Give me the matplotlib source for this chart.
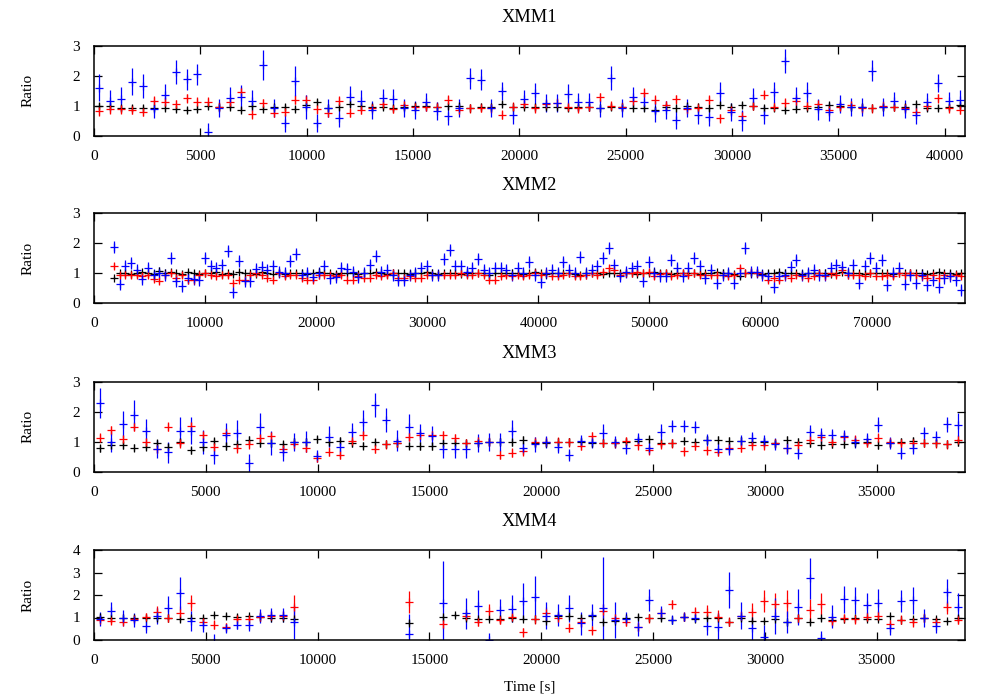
import numpy as np
import matplotlib.pyplot as plt

plt.rcParams['font.family'] = ['Liberation Serif', 'DejaVu Serif']
plt.rcParams['font.size'] = 11

nan = np.nan
BIN = 512.0   # time bin [s]

#====================== DATA ============================================

# ---- XMM1 (80 bins from t=0)
blue1 = [1.60,1.17,1.23,1.80,1.67,0.88,1.36,2.13,1.88,2.05,
         0.11,0.91,1.27,1.28,1.17,2.35,0.91,0.41,1.83,0.97,
         0.43,0.91,0.58,1.30,1.17,0.86,1.27,1.22,0.91,0.86,
         1.11,0.82,0.66,0.93,1.91,1.86,0.93,1.49,0.69,1.22,
         1.41,1.08,1.08,1.38,1.13,1.13,0.91,1.91,0.91,1.28,
         1.11,0.82,0.86,0.52,0.91,0.69,0.61,1.43,0.80,0.52,
         1.25,0.69,1.45,2.49,1.27,1.43,0.88,0.80,1.06,0.97,
         0.97,2.16,0.97,1.16,0.88,0.69,1.13,1.75,1.16,1.19]
blue1_err = [.45,.35,.40,.45,.40,.30,.35,.40,.35,.35,
             .30,.30,.35,.40,.35,.50,.30,.30,.50,.40,
             .30,.30,.30,.35,.35,.30,.30,.35,.30,.30,
             .30,.30,.30,.30,.35,.35,.30,.30,.30,.30,
             .35,.30,.30,.35,.30,.30,.30,.40,.30,.35,
             .30,.35,.30,.30,.30,.30,.30,.35,.30,.35,
             .35,.30,.35,.40,.35,.35,.35,.30,.30,.30,
             .30,.35,.30,.30,.30,.30,.30,.30,.30,.35]
red1 = [0.82,0.88,0.88,0.86,0.80,1.16,1.13,1.05,1.25,1.13,
        1.13,0.97,1.11,1.46,0.71,1.08,0.77,0.80,1.19,1.19,
        0.88,0.77,1.16,0.77,0.86,0.93,1.05,0.89,1.02,0.97,
        0.97,0.97,1.19,0.86,0.91,0.93,0.91,0.69,0.97,1.05,
        0.91,1.05,1.10,0.97,0.91,0.97,1.28,1.00,0.97,1.16,
        1.43,1.19,1.02,1.22,0.88,0.93,1.19,0.58,0.85,0.66,
        0.99,1.36,0.97,1.10,1.16,1.00,1.05,0.85,0.97,1.02,
        0.91,0.91,0.99,0.97,0.91,0.80,0.99,1.25,0.91,0.86]
black1 = [1.00,1.00,0.91,0.91,0.93,0.92,0.91,0.88,0.86,0.88,
          0.99,0.95,0.97,0.86,0.99,0.88,0.97,0.97,0.88,1.02,
          1.11,0.93,0.97,1.05,0.99,0.97,0.97,0.93,0.97,1.00,
          0.99,0.97,0.99,0.99,0.93,0.97,0.97,1.05,0.97,0.97,
          0.97,0.97,0.97,0.93,0.97,0.97,0.91,0.97,0.97,0.93,
          0.91,0.86,0.97,0.93,0.99,0.97,0.91,1.02,0.97,1.02,
          0.99,0.91,0.91,0.86,0.88,0.93,0.97,1.02,0.99,0.97,
          0.97,0.91,0.97,0.97,0.97,1.05,0.91,0.91,0.97,1.01]

# ---- XMM2 (150 bins, first bin index 3)
blue2 = [1.88,0.64,1.25,1.36,1.12,0.82,1.17,0.95,1.00,0.95,
         1.51,0.75,0.59,0.86,0.82,0.78,1.51,1.23,1.17,1.29,
         1.76,0.37,1.42,0.75,0.75,1.15,1.20,1.12,1.23,1.06,
         1.00,1.42,1.64,0.95,1.00,0.89,1.00,1.23,0.84,0.89,
         1.17,1.15,1.06,0.89,1.00,1.29,1.57,1.06,1.12,0.95,
         0.78,0.78,0.95,1.00,1.17,1.23,0.95,0.95,1.49,1.79,
         1.23,1.25,1.06,1.17,1.48,1.12,1.00,1.17,1.17,1.12,
         0.95,1.17,1.00,1.38,0.95,0.70,1.00,1.12,1.00,1.38,
         1.12,1.00,1.54,1.00,1.12,1.23,1.51,1.85,1.29,0.90,
         1.06,1.17,1.23,0.73,1.38,1.00,0.90,0.90,1.45,1.17,
         0.90,1.17,1.51,1.23,0.84,1.12,0.67,0.95,1.00,0.69,
         1.00,1.85,1.06,1.06,0.95,0.90,0.53,0.90,0.95,1.20,
         1.45,0.95,1.00,1.12,0.95,0.95,1.17,1.29,1.20,1.00,
         1.29,0.67,1.23,1.51,1.17,1.45,0.62,1.00,1.17,0.64,
         0.95,0.67,0.95,0.62,0.78,0.56,0.84,0.90,0.78,0.45]
red2 = [1.23,0.95,0.95,0.93,0.95,0.92,0.95,0.82,0.75,0.95,
        1.01,0.86,0.95,0.78,0.78,0.95,1.01,0.95,0.90,0.95,
        0.95,0.67,0.78,0.78,0.95,1.01,0.95,0.84,0.78,1.01,
        0.90,0.95,0.95,0.84,0.78,0.78,0.95,0.95,0.95,0.90,
        0.95,0.78,0.78,0.90,0.86,0.86,0.93,0.90,0.95,1.01,
        0.84,0.84,0.90,0.86,0.86,0.95,0.95,0.95,0.95,0.95,
        0.95,1.01,0.95,0.95,1.01,0.95,0.78,0.78,0.90,0.95,
        0.90,0.95,0.90,0.95,1.01,0.95,1.01,0.90,0.90,0.95,
        1.01,0.90,0.90,0.95,1.01,0.95,1.06,1.17,1.12,0.95,
        1.01,1.01,1.06,1.01,1.06,0.90,0.97,1.01,0.90,0.95,
        1.01,0.95,1.01,0.95,0.95,0.95,0.95,0.95,0.90,0.95,
        1.17,1.01,1.06,1.01,0.95,0.78,0.84,0.78,0.90,0.84,
        0.95,0.90,0.84,0.90,1.01,0.90,1.01,0.95,1.12,0.95,
        0.95,0.95,0.90,1.01,0.90,0.90,0.95,0.90,1.01,0.95,
        1.01,0.95,0.90,0.84,0.95,0.84,0.95,0.90,0.95,0.90]
black2 = [0.86,1.00,1.02,0.98,1.00,1.03,1.00,0.98,1.08,1.00,
          1.03,1.00,0.97,1.05,1.02,0.98,1.00,1.00,1.03,0.97,
          1.00,0.98,1.05,1.00,1.02,0.98,1.03,1.00,0.97,1.00,
          0.97,1.00,1.02,1.00,0.98,1.00,1.03,1.00,1.00,0.98,
          1.00,1.02,1.00,0.97,1.00,1.00,1.03,1.00,0.98,1.00,
          1.00,1.02,0.98,1.00,1.00,1.03,1.00,0.97,1.00,1.00,
          1.00,0.98,1.02,1.00,1.00,1.00,0.95,1.00,1.00,1.02,
          1.00,1.00,0.98,1.00,1.03,1.00,0.97,1.00,1.00,1.02,
          1.00,0.97,0.95,1.00,1.00,1.00,0.98,1.02,1.00,1.00,
          1.02,1.00,0.98,1.00,1.00,1.03,1.00,1.00,0.97,1.00,
          1.00,1.02,1.00,0.98,1.00,1.00,1.03,1.00,1.00,0.97,
          0.90,1.00,1.02,1.00,0.98,1.00,1.00,1.03,1.00,1.00,
          1.00,0.98,1.00,1.02,1.00,1.00,0.98,1.00,1.03,1.00,
          1.00,1.00,0.98,1.00,1.02,1.00,1.00,0.97,1.00,1.00,
          1.02,1.00,1.00,0.98,1.00,1.03,1.00,1.00,0.97,1.00]

# ---- XMM3 (76 bins)
blue3 = [2.30,1.00,1.58,1.89,1.36,0.76,0.65,1.36,1.36,1.00,
         0.55,1.22,1.28,0.28,1.50,0.95,0.67,1.00,1.00,0.53,
         1.17,0.83,1.33,1.65,2.22,1.72,1.03,1.48,1.30,1.19,
         0.76,0.76,0.76,0.95,1.00,1.00,1.36,0.78,0.91,1.00,
         0.83,0.56,1.03,1.00,1.28,1.00,0.78,1.09,0.80,1.33,
         1.53,1.53,1.48,1.06,0.76,0.76,1.03,1.13,1.02,0.91,
         0.78,0.61,1.31,1.22,1.22,1.19,1.00,1.08,1.56,0.95,
         0.61,0.78,1.28,1.17,1.59,1.56]
blue3_err = [.50,.35,.45,.50,.40,.30,.35,.45,.45,.40,
             .30,.40,.45,.30,.45,.40,.30,.30,.35,.20,
             .35,.30,.30,.40,.40,.40,.35,.45,.30,.35,
             .30,.30,.30,.30,.30,.30,.35,.20,.25,.20,
             .20,.20,.20,.20,.30,.20,.20,.20,.20,.25,
             .20,.20,.20,.20,.20,.20,.20,.20,.20,.20,
             .20,.20,.25,.25,.20,.20,.20,.20,.25,.20,
             .20,.20,.20,.20,.25,.40]
red3 = [1.13,1.39,1.09,1.50,0.98,0.76,1.50,0.95,1.52,1.22,
        0.83,1.30,0.78,0.91,1.11,1.19,0.76,0.92,0.80,0.47,
        0.67,0.56,1.03,1.22,0.76,0.91,0.95,1.17,1.22,1.22,
        1.22,1.11,0.95,1.02,1.00,0.56,0.64,0.69,1.00,1.00,
        1.00,0.98,0.87,1.19,0.97,0.95,1.02,0.89,0.72,0.91,
        0.95,0.69,0.87,0.72,0.67,0.78,0.80,0.89,0.89,0.95,
        0.78,0.89,1.06,1.17,1.00,1.17,1.06,0.97,1.14,0.98,
        0.95,0.97,0.97,0.95,0.92,1.06]
black3 = [0.78,0.89,0.89,0.80,0.83,0.95,0.83,1.00,0.72,0.83,
          1.02,0.86,0.91,1.06,0.95,0.95,0.91,1.00,1.00,1.08,
          0.98,1.03,0.95,0.87,0.98,0.91,0.95,0.87,0.86,0.86,
          0.95,0.97,0.95,0.97,1.00,1.00,0.98,1.06,0.95,0.95,
          1.00,1.00,1.00,0.95,0.97,0.97,1.00,1.03,1.08,0.97,
          0.95,1.03,0.98,1.06,1.06,1.03,1.03,1.00,1.00,0.95,
          1.06,1.00,0.95,0.89,0.91,0.91,0.97,1.00,0.89,0.95,
          1.00,1.03,0.97,0.97,0.91,0.98]

# ---- XMM4 (76 bins, gap in the middle)
blue4 = [0.93,1.29,0.99,0.89,0.64,1.07,1.44,2.07,0.84,0.67,
         -0.10,0.52,0.67,0.67,1.07,1.11,1.11,0.79,nan,nan,
         nan,nan,nan,nan,nan,nan,nan,0.25,nan,nan,
         1.63,nan,1.18,1.53,0.00,1.33,1.38,1.73,1.93,1.07,
         1.11,1.41,0.74,1.11,1.41,0.89,0.95,0.59,1.77,1.21,
         0.89,1.04,0.99,0.62,0.59,2.22,1.07,0.52,0.15,1.07,
         0.79,1.48,2.74,0.10,1.04,1.82,1.77,1.55,1.66,0.52,
         1.73,1.77,0.99,0.62,2.12,1.48]
blue4_err = [0.30,0.40,0.35,0.30,0.35,0.35,0.50,0.75,0.45,0.30,
             0.35,0.20,0.20,0.25,0.30,0.30,0.30,0.75,0,0,
             0,0,0,0,0,0,0,0.90,0,0,
             1.90,0,0.70,0.70,0.30,0.50,0.60,0.80,0.90,0.60,
             0.50,0.60,0.50,0.50,2.30,0.80,0.30,0.40,0.50,0.30,
             0.20,0.20,0.20,0.40,0.60,0.80,0.60,0.50,0.50,0.80,
             0.50,0.80,0.90,0.30,0.50,0.60,0.60,0.55,0.60,0.30,
             0.50,0.60,0.40,0.30,0.60,0.60]
red4 = [0.89,0.84,0.81,0.93,1.04,1.23,0.99,1.21,1.63,0.81,
        0.67,0.59,0.93,0.93,1.04,1.08,1.08,1.48,nan,nan,
        nan,nan,nan,nan,nan,nan,nan,1.70,nan,nan,
        0.70,nan,1.07,0.81,1.30,0.89,1.04,0.34,0.93,1.18,
        0.99,0.55,0.79,0.44,1.29,0.96,0.81,0.59,0.96,1.21,
        1.60,1.04,1.26,1.26,1.04,0.81,1.08,1.26,1.74,1.59,
        1.63,0.96,1.33,1.59,0.84,0.96,0.93,1.04,1.07,0.70,
        0.89,0.79,0.99,0.81,1.45,0.89]
red4_err = [0.15,0.15,0.15,0.15,0.15,0.30,0.20,0.30,0.35,0.15,
            0.20,0.15,0.20,0.20,0.20,0.20,0.20,0.50,0,0,
            0,0,0,0,0,0,0,0.50,0,0,
            0.20,0,0.20,0.20,0.30,0.20,0.20,0.20,0.20,0.30,
            0.20,0.20,0.20,0.20,0.30,0.20,0.20,0.20,0.20,0.20,
            0.20,0.20,0.20,0.30,0.30,0.20,0.20,0.40,0.50,0.50,
            0.60,0.20,0.50,0.50,0.20,0.20,0.20,0.20,0.20,0.20,
            0.20,0.20,0.20,0.20,0.30,0.20]
black4 = [1.04,1.00,1.00,1.00,0.99,0.96,0.99,0.92,0.96,0.99,
          1.11,1.08,1.04,1.07,1.04,0.99,0.99,0.93,nan,nan,
          nan,nan,nan,nan,nan,nan,nan,0.77,nan,nan,
          1.01,1.11,0.96,0.93,0.93,0.92,0.99,0.93,0.93,0.84,
          1.07,1.07,0.99,1.08,0.81,0.84,0.96,1.04,0.96,0.96,
          0.89,1.04,0.93,0.99,0.99,0.81,0.96,0.84,0.84,0.93,
          0.78,0.99,0.78,0.96,0.89,0.93,0.99,0.93,0.93,1.07,
          0.89,0.93,0.99,0.93,0.84,0.99]

panels = [
    dict(title='XMM1', first=0, xmax=40960, ymax=3, xstep=5000,
         black=black1, red=red1, blue=blue1, ek=0.10, er=0.15, eb=blue1_err),
    dict(title='XMM2', first=3, xmax=78400, ymax=3, xstep=10000,
         black=black2, red=red2, blue=blue2, ek=0.06, er=0.10, eb=0.20),
    dict(title='XMM3', first=0, xmax=38950, ymax=3, xstep=5000,
         black=black3, red=red3, blue=blue3, ek=0.12, er=0.15, eb=blue3_err),
    dict(title='XMM4', first=0, xmax=38950, ymax=4, xstep=5000,
         black=black4, red=red4, blue=blue4, ek=0.10, er=red4_err, eb=blue4_err),
]

#=====================PLOT===============================================

fig = plt.figure(figsize=(10, 7), dpi=100)
tops = [45.7, 213.3, 381.7, 550.0]   # axes top in pixels

for p, top in zip(panels, tops):
    ax = fig.add_axes([0.094, 1 - (top + 90) / 700, 0.871, 90 / 700])
    n = len(p['black'])
    t = BIN / 2 + BIN * (np.arange(n) + p['first'])
    for vals, err, col in [(p['black'], p['ek'], 'black'),
                           (p['red'], p['er'], '#ff0000'),
                           (p['blue'], p['eb'], '#0000ff')]:
        ax.errorbar(t, vals, yerr=err, fmt='+', color=col, ms=6, mew=0.9,
                    elinewidth=0.9, capsize=0)
    ax.set_xlim(0, p['xmax'])
    ax.set_ylim(0, p['ymax'])
    ax.set_xticks(np.arange(0, p['xmax'], p['xstep']))
    ax.set_yticks(np.arange(0, p['ymax'] + 1))
    ax.tick_params(direction='in', length=6, width=0.9, top=True, right=True)
    ax.tick_params(axis='x', pad=10)
    ax.tick_params(axis='y', pad=10)
    for s in ax.spines.values():
        s.set_linewidth(1.1)
    ax.set_title(p['title'], pad=17)
    ax.set_ylabel('Ratio')
    ax.yaxis.set_label_coords(-0.068, 0.5)

ax.set_xlabel('Time [s]')
ax.xaxis.set_label_coords(0.5, -0.45)

plt.savefig('out.png', dpi=100)
